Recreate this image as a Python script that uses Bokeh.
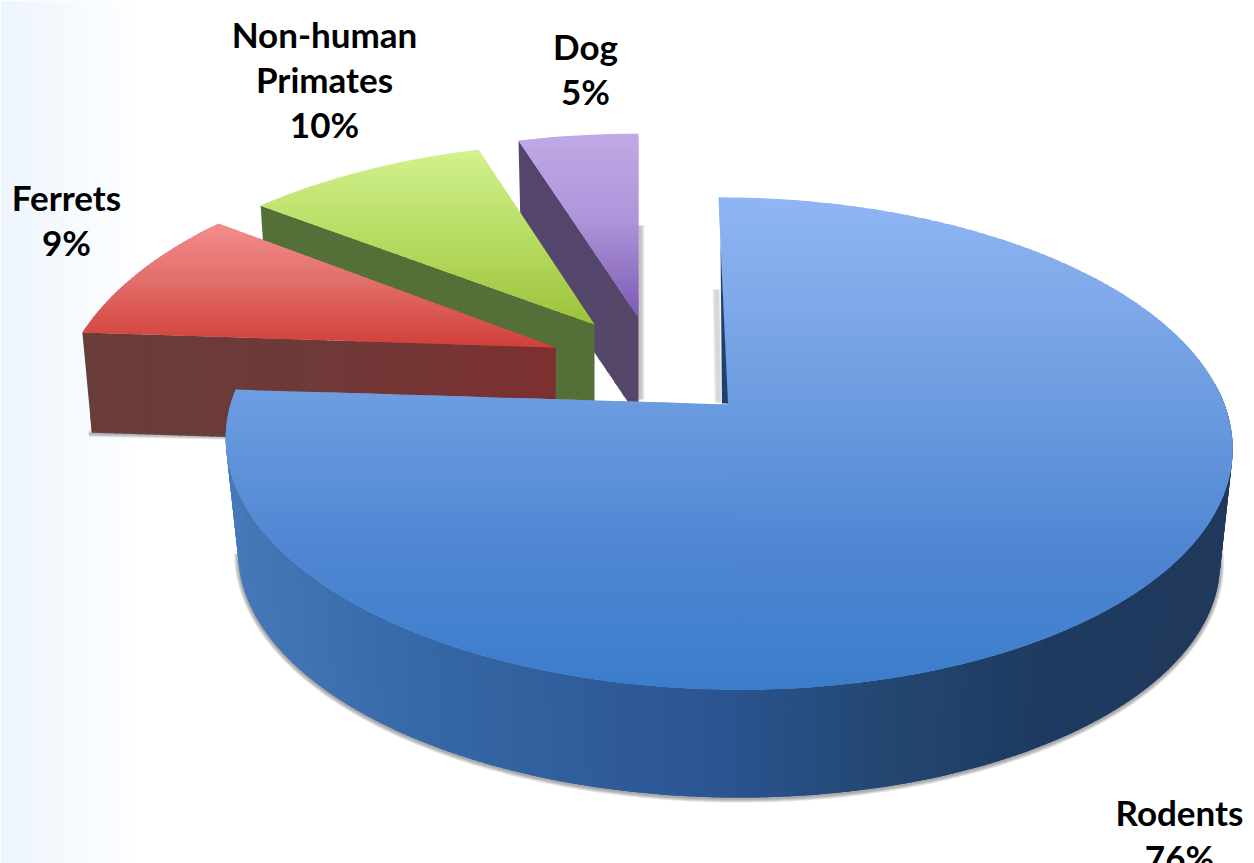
import numpy as np
from bokeh.embed import file_html
from bokeh.models import ColumnDataSource
from bokeh.plotting import figure
from bokeh.resources import INLINE
from bokeh.core.properties import value

# Share of studies per animal model, in drawing order around the pie
categories = ["Rodents", "Ferrets", "Non-human Primates", "Dog"]
shares = [76, 9, 10, 5]

# Label rows: the name is split across lines, the last row carries the share
label_rows = [["Rodents"], ["Ferrets"], ["Non-human", "Primates"], ["Dog"]]
label_baselines = [(1179, 811), (66, 196), (324, 33), (585, 45)]
LINE_GAP = 45

# Perspective parameters of each wedge (apex, radii, foreshortening, wall depth)
wedges = {
    "Rodents": dict(x0=727, y0=404, A=497, B=240, k=0.1586, S=-10.4, depth=115, f=0.975),
    "Ferrets": dict(x0=555, y0=347, A=482, B=244, k=0.267, S=0, depth=100, f=0.98),
    "Non-human Primates": dict(x0=594, y0=324, A=492, B=241, k=0.327, S=0, depth=100, f=0.98),
    "Dog": dict(x0=638, y0=317, A=499, B=239, k=0.30, S=0, depth=100, f=0.98),
}

# Vertical colour ramps of the top faces: (y pixel, colour)
top_ramps = {
    "Rodents": [(198, "#8fb5f4"), (300, "#7fa9ea"), (400, "#6c9ce0"), (550, "#4f86d2"), (690, "#3b7dcb")],
    "Ferrets": [(223, "#f28d8d"), (280, "#e26f6a"), (347, "#d23f3a")],
    "Non-human Primates": [(148, "#d2f28e"), (230, "#b9de66"), (324, "#9dc23b")],
    "Dog": [(133, "#c1a9e6"), (220, "#ae94da"), (317, "#7d5ab3")],
}

# Horizontal colour ramps of the side walls: (x pixel, colour)
wall_ramps = {
    "Rodents": [(225, "#4779b9"), (420, "#3668a7"), (730, "#2a5490"), (900, "#23466f"), (1050, "#1e3a60"), (1235, "#21395c")],
    "Ferrets": [(80, "#693c3a"), (300, "#6e3a38"), (555, "#7c3030")],
    "Non-human Primates": [(260, "#556f38"), (600, "#546f38")],
    "Dog": [(518, "#54456c"), (640, "#55466a")],
}

PAGE_W, PAGE_H = 1254, 863


def hex_rgb(c):
    return np.array([int(c[i:i + 2], 16) for i in (1, 3, 5)], dtype=float)


def ramp_colour(ramp, pos):
    stops = [s[0] for s in ramp]
    rgb = np.array([hex_rgb(s[1]) for s in ramp])
    vals = [np.interp(pos, stops, rgb[:, i]) for i in range(3)]
    return "#%02x%02x%02x" % tuple(int(round(v)) for v in vals)


def project(theta_deg, g, lower=False):
    """Map a pie angle (clockwise from the far side) to page pixels."""
    t = np.radians(theta_deg)
    u, v = np.sin(t), np.cos(t)
    w = 1 + g["k"] * v
    f = g["f"] if lower else 1.0
    x = g["x0"] + f * (g["A"] * u + g["S"] * v) / w
    y = g["y0"] + (g["depth"] if lower else 0) - f * g["B"] * v / w
    return x, y


def clip_half(poly, axis, limit, keep_above):
    out = []
    n = len(poly)
    for i in range(n):
        a, b = poly[i], poly[(i + 1) % n]
        ina = a[axis] >= limit if keep_above else a[axis] <= limit
        inb = b[axis] >= limit if keep_above else b[axis] <= limit
        if ina:
            out.append(a)
        if ina != inb:
            s = (limit - a[axis]) / (b[axis] - a[axis])
            out.append((a[0] + s * (b[0] - a[0]), a[1] + s * (b[1] - a[1])))
    return out


bands = dict(xs=[], ys=[], color=[])


def add_gradient(poly, ramp, axis, step=3.0, overlap=2.0):
    """Fill a convex polygon as strips; each strip runs under the next so no seams show."""
    coords = [p[axis] for p in poly]
    lo, hi = min(coords), max(coords)
    edge = lo
    while edge < hi:
        part = clip_half(clip_half(poly, axis, edge, True), axis, edge + step + overlap, False)
        if len(part) >= 3:
            bands["xs"].append([p[0] for p in part])
            bands["ys"].append([p[1] for p in part])
            bands["color"].append(ramp_colour(ramp, edge + step / 2))
        edge += step


def sector(g, a0, a1):
    steps = max(int(a1 - a0), 2)
    rim = [project(a, g) for a in np.linspace(a0, a1, steps + 1)]
    return [(g["x0"], g["y0"])] + rim


def add_top(name, a0, a1):
    g = wedges[name]
    # Sweeps over a half turn are cut in two so that each part stays convex
    if a1 - a0 > 180:
        add_gradient(sector(g, a0 + 170, a1), top_ramps[name], 1)
        add_gradient(sector(g, a0, a0 + 180), top_ramps[name], 1)
    else:
        add_gradient(sector(g, a0, a1), top_ramps[name], 1)


def add_cut_wall(name, angle):
    g = wedges[name]
    ox, oy = project(angle, g)
    lx, ly = project(angle, g, lower=True)
    quad = [(g["x0"], g["y0"]), (ox, oy), (lx, ly), (g["x0"], g["y0"] + g["depth"])]
    add_gradient(quad, wall_ramps[name], 0, step=8.0)


def add_rim_wall(name, a0, a1):
    g = wedges[name]
    angles = np.arange(a0, a1 + 0.5, 0.75)
    for t0, t1 in zip(angles[:-1], angles[1:]):
        t2 = t1 + 1.0
        a, b = project(t0, g), project(min(t2, a1), g)
        c, d = project(min(t2, a1), g, lower=True), project(t0, g, lower=True)
        bands["xs"].append([a[0], b[0], c[0], d[0]])
        bands["ys"].append([a[1], b[1], c[1], d[1]])
        mid = (project(t0, g)[0] + project(t1, g)[0]) / 2
        bands["color"].append(ramp_colour(wall_ramps[name], mid))


def flush_bands():
    """Draw the collected strips and start a new batch."""
    p.patches("xs", "ys", source=ColumnDataSource({k: list(v) for k, v in bands.items()}),
              fill_color="color", line_color=None)
    for v in bands.values():
        v.clear()


# Wedge boundaries come straight from the shares
edges = np.concatenate([[0], np.cumsum(shares)]) * 360 / sum(shares)
spans = {c: (edges[i], edges[i + 1]) for i, c in enumerate(categories)}

p = figure(width=PAGE_W, height=PAGE_H, x_range=(0, PAGE_W), y_range=(PAGE_H, 0),
           output_backend="svg", toolbar_location=None, min_border=0,
           background_fill_color="white", border_fill_color="white", outline_line_color=None)
p.axis.visible = False
p.grid.visible = False

# Pale blue wash down the left side of the slide
wash_stops = [(0, "#eef5fd"), (60, "#f5f9fe"), (118, "#fbfdff"), (130, "#ffffff")]
wash_edges = np.arange(0, 130, 5)
p.quad(left=wash_edges, right=wash_edges + 6, top=0, bottom=PAGE_H,
       fill_color=[ramp_colour(wash_stops, e) for e in wash_edges], line_color=None)

# Soft shadows are stacked translucent strokes beside the silhouettes
dog = wedges["Dog"]
for w in (10, 7, 4):
    p.line([dog["x0"] + 1, dog["x0"] + 1], [225, 399], line_color="#555555", line_width=w, line_alpha=0.13)

# Wedges from back to front, the rodents last
add_cut_wall("Dog", spans["Dog"][0])
add_top("Dog", *spans["Dog"])
add_cut_wall("Non-human Primates", spans["Non-human Primates"][0])
add_top("Non-human Primates", *spans["Non-human Primates"])
add_cut_wall("Ferrets", spans["Ferrets"][0])
add_top("Ferrets", *spans["Ferrets"])
flush_bands()

f_low0 = project(spans["Ferrets"][0], wedges["Ferrets"], lower=True)
for w in (6, 4, 2):
    p.line([f_low0[0] - 3, 232], [f_low0[1] + 1, f_low0[1] + 4], line_color="#555555", line_width=w, line_alpha=0.16)

# Rodent wedge: shadow under the rim, then walls and top face
g = wedges["Rodents"]
rim_angles = np.linspace(88, 262, 220)
rim = [project(a, g, lower=True) for a in rim_angles]
for w in (8, 6, 4, 2):
    p.line([q[0] for q in rim], [q[1] + 1 for q in rim], line_color="#444444", line_width=w, line_alpha=0.14)

add_rim_wall("Rodents", 85, spans["Rodents"][1])
add_top("Rodents", *spans["Rodents"])
flush_bands()

# Inner cut of the rodent wedge, just visible beside its first edge
ox, oy = project(0, g)
mx, my = g["x0"] + 0.78 * (ox - g["x0"]), g["y0"] + 0.78 * (oy - g["y0"])
for w, a in ((8, 0.10), (5, 0.14)):
    p.line([g["x0"] - 9, g["x0"] - 11], [g["y0"] - 2, g["y0"] - 115], line_color="#555555", line_width=w, line_alpha=a)
p.patch([g["x0"] + 0.5, mx, g["x0"] - 5.5], [g["y0"] - 1, my, g["y0"] - 1], fill_color="#20416f", line_color=None)

# Labels: name rows followed by the share
for rows, base, share in zip(label_rows, label_baselines, shares):
    lines = rows + [f"{share}%"]
    p.text(x=[base[0]] * len(lines), y=[base[1] + i * LINE_GAP for i in range(len(lines))], text=lines,
           text_font=value("Lato"), text_font_style="bold", text_font_size="35px",
           text_color="black", text_align="center", text_baseline="alphabetic")

open("out.html", "w").write(file_html(p, INLINE))
